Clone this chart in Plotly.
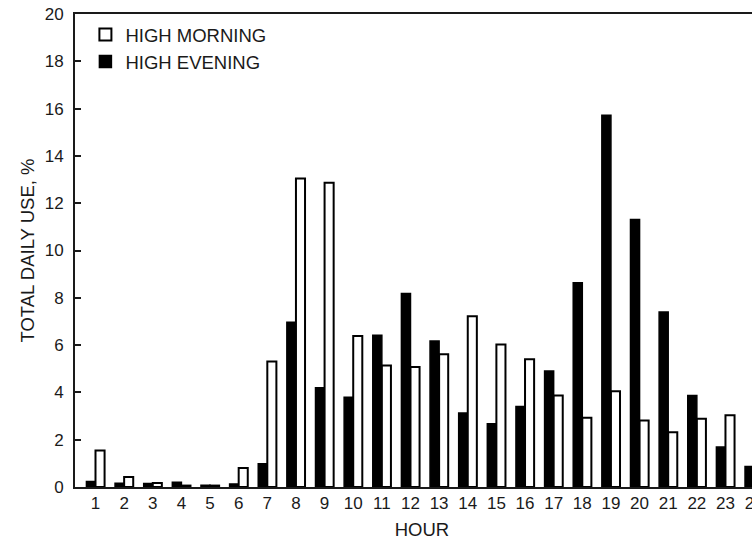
import plotly.graph_objects as go

# Share of total daily water use by hour, for two household usage profiles
hours = list(range(1, 25))
hour_labels = [str(h) for h in hours]

high_evening = [0.23, 0.16, 0.15, 0.20, 0.07, 0.13, 0.98, 6.97, 4.20, 3.80, 6.42, 8.18,
                6.17, 3.13, 2.67, 3.40, 4.90, 8.64, 15.72, 11.31, 7.40, 3.87, 1.69, 0.87]
high_morning = [1.54, 0.42, 0.17, 0.06, 0.06, 0.80, 5.31, 13.04, 12.86, 6.38, 5.14, 5.07,
                5.61, 7.22, 6.03, 5.40, 3.87, 2.93, 4.05, 2.81, 2.32, 2.89, 3.03, 1.90]

y_ticks = list(range(0, 21, 2))

FONT = "Arial, Liberation Sans, Helvetica, sans-serif"
INK = "#1a1a1a"

fig = go.Figure()
fig.add_trace(go.Bar(
    x=hours, y=high_evening, name="HIGH EVENING", legendgroup="evening",
    marker=dict(color="#000000", line=dict(color="#000000", width=1.5)),
    legendrank=2,
))
fig.add_trace(go.Bar(
    x=hours, y=high_morning, name="HIGH MORNING", legendgroup="morning",
    marker=dict(color="#ffffff", line=dict(color="#000000", width=2)),
    legendrank=1,
))

fig.update_layout(
    width=780, height=540,
    margin=dict(l=75, r=11, t=14, b=53),
    paper_bgcolor="white", plot_bgcolor="white",
    barmode="group", bargap=0.366, bargroupgap=0,
    font=dict(family=FONT, size=17, color=INK),
    showlegend=True,
    legend=dict(
        x=0.015, y=0.996, xanchor="left", yanchor="top",
        bgcolor="rgba(0,0,0,0)", font=dict(size=18.5, color=INK),
        traceorder="grouped", tracegroupgap=0,
    ),
    xaxis=dict(
        range=[0.284, 24.52], automargin=False,
        tickmode="array", tickvals=hours, ticktext=hour_labels,
        ticks="", showline=True, linewidth=2, linecolor=INK, mirror=True,
        showgrid=False, zeroline=False,
        tickfont=dict(size=17), ticklabelstandoff=0,
        title=dict(text="HOUR", font=dict(size=18.5), standoff=12),
    ),
    yaxis=dict(
        range=[0, 20], tickmode="array", tickvals=y_ticks, automargin=False,
        ticks="inside", ticklen=6, tickwidth=1.5, tickcolor=INK,
        showline=True, linewidth=2, linecolor=INK,
        showgrid=False, zeroline=False,
        tickfont=dict(size=17), ticklabelstandoff=6,
        title=dict(text="TOTAL DAILY USE, %", font=dict(size=18.5), standoff=5),
    ),
)

fig.write_html("out.html")
